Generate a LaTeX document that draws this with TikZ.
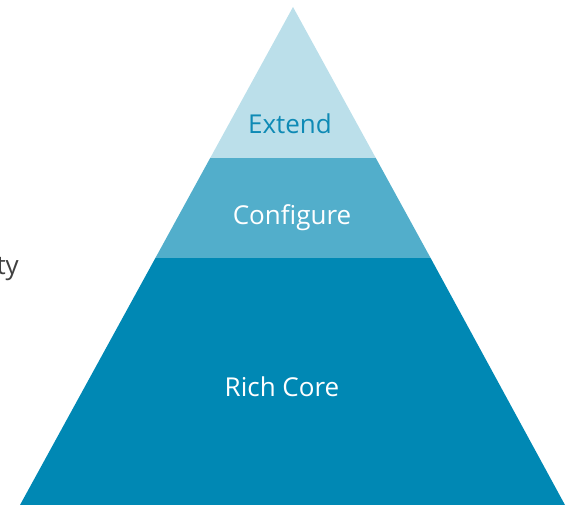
\documentclass[tikz,border=0pt]{standalone}
\usepackage{fontspec}
\setmainfont{Open Sans}
\definecolor{lightlayer}{HTML}{BBDFEA}
\definecolor{midlayer}{HTML}{52AECB}
\definecolor{darklayer}{HTML}{0088B4}
\definecolor{extendtext}{HTML}{0E8AB5}
\definecolor{sidetext}{HTML}{404040}
\tikzset{
  layerlabel/.style={font=\fontsize{26}{30}\selectfont, inner sep=0pt},
}
\begin{document}
\begin{tikzpicture}[x=1pt,y=-1pt]
\useasboundingbox (0,0) rectangle (568,505);
\clip (0,0) rectangle (568,505);
% layers
\fill[darklayer] (155.4,258) -- (430.6,258) -- (565,505) -- (20,505) -- cycle;
\fill[midlayer] (210.2,158) -- (375.8,158) -- (430.6,258) -- (155.4,258) -- cycle;
\fill[lightlayer] (293,7) -- (375.8,158) -- (210.2,158) -- cycle;
% labels
\node[layerlabel, text=extendtext, anchor=base] (extend) at (290,134) {Extend};
\node[layerlabel, text=white, anchor=base] (configure) at (292,225) {Configure};
\node[layerlabel, text=white, anchor=base] (core) at (282,396) {Rich Core};
\node[layerlabel, text=sidetext, anchor=base east] (side) at (19,275) {ty};
\end{tikzpicture}
\end{document}
